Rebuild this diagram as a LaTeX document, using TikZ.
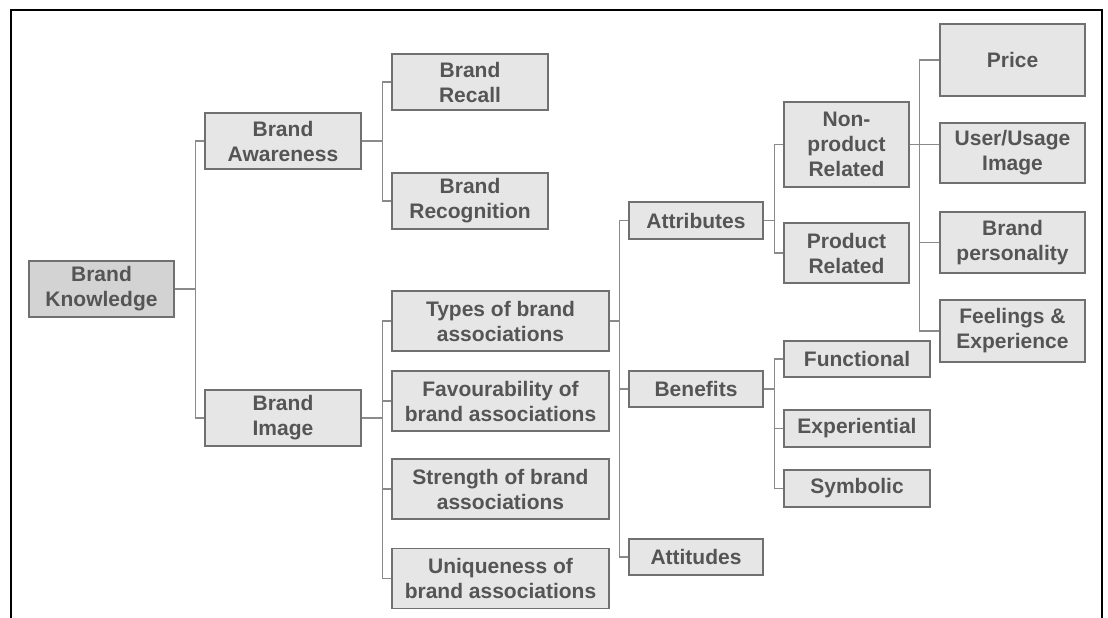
\documentclass[tikz,border=0pt]{standalone}
\usepackage{fontspec}
\setmainfont{Liberation Sans}
\definecolor{txt}{HTML}{555555}
\definecolor{boxfill}{HTML}{E6E6E6}
\definecolor{rootfill}{HTML}{D3D3D3}
\definecolor{boxline}{HTML}{707070}
\definecolor{conn}{HTML}{8A8A8A}
\begin{document}
\begin{tikzpicture}[x=1pt,y=-1pt,
  bx/.style={draw=boxline,fill=boxfill,line width=1.3pt,inner sep=0pt,align=center,
    text=txt,font=\fontsize{21}{25}\selectfont\bfseries},
  link/.style={draw=conn,line width=1.3pt}]
\useasboundingbox (0,0) rectangle (1108,618);
\fill[white] (0,0) rectangle (1108,618);
\draw[line width=2.8pt,black] (11,618) -- (11,10) -- (1102,10) -- (1102,618);

\node[bx,fill=rootfill,minimum width=145pt,minimum height=56pt] (BK) at (101.5,289) {Brand\\Knowledge};
\node[bx,minimum width=156pt,minimum height=56pt] (BA) at (283,141) {Brand\\Awareness};
\node[bx,minimum width=156pt,minimum height=56pt] (BI) at (283,418) {Brand\\Image};
\node[bx,minimum width=156pt,minimum height=56pt] (BR) at (470,82) {Brand\\Recall};
\node[bx,minimum width=156pt,minimum height=56pt] (BRec) at (470,201) {Brand\\Recognition};
\node[bx,minimum width=217pt,minimum height=60pt] (TY) at (500.5,321) {Types of brand\\associations};
\node[bx,minimum width=217pt,minimum height=60pt] (FA) at (500.5,401) {Favourability of\\brand associations};
\node[bx,minimum width=217pt,minimum height=60pt] (ST) at (500.5,489) {Strength of brand\\associations};
\node[bx,minimum width=217pt,minimum height=60pt] (UN) at (500.5,578.5) {Uniqueness of\\brand associations};
\node[bx,minimum width=134pt,minimum height=37pt] (AT) at (696,220.5) {Attributes};
\node[bx,minimum width=134pt,minimum height=36pt] (BE) at (696,389) {Benefits};
\node[bx,minimum width=134pt,minimum height=36pt] (AD) at (696,557) {Attitudes};
\node[bx,minimum width=125pt,minimum height=85pt] (NP) at (846.5,144.5) {Non-\\product\\Related};
\node[bx,minimum width=125pt,minimum height=60pt] (PR) at (846.5,253) {Product\\Related};
\node[bx,minimum width=145pt,minimum height=72pt] (PRI) at (1012.5,60) {Price};
\node[bx,minimum width=145pt,minimum height=60pt] (US) at (1012.5,153) {User/Usage\\Image};
\node[bx,minimum width=145pt,minimum height=61pt] (BP) at (1012.5,242.5) {Brand\\personality};
\node[bx,minimum width=145pt,minimum height=62pt] (FE) at (1012.5,331) {Feelings \&\\Experience};
\node[bx,minimum width=146pt,minimum height=36pt] (FU) at (857,359) {Functional};
\node[bx,minimum width=146pt,minimum height=37pt] (EX) at (857,428.5) {Experiential};
\node[bx,minimum width=146pt,minimum height=37pt] (SY) at (857,488.5) {Symbolic};

% connectors
\draw[link] (BK.east) -- ++(21,0) |- (BA.west);
\draw[link] (BK.east) -- ++(21,0) |- (BI.west);
\draw[link] (BA.east) -- ++(21,0) |- (BR.west);
\draw[link] (BA.east) -- ++(21,0) |- (BRec.west);
\foreach \c in {TY,FA,ST,UN} \draw[link] (BI.east) -- ++(21,0) |- (\c.west);
\foreach \c in {AT,BE,AD} \draw[link] (TY.east) -- ++(10,0) |- (\c.west);
\foreach \c in {NP,PR} \draw[link] (AT.east) -- ++(11,0) |- (\c.west);
\foreach \c in {FU,EX,SY} \draw[link] (BE.east) -- ++(11,0) |- (\c.west);
\draw[link] (NP.east) -- (NP.east -| US.west);
\foreach \c in {PRI,BP,FE} \draw[link] (NP.east) -- ++(10,0) |- (\c.west);
\end{tikzpicture}
\end{document}
